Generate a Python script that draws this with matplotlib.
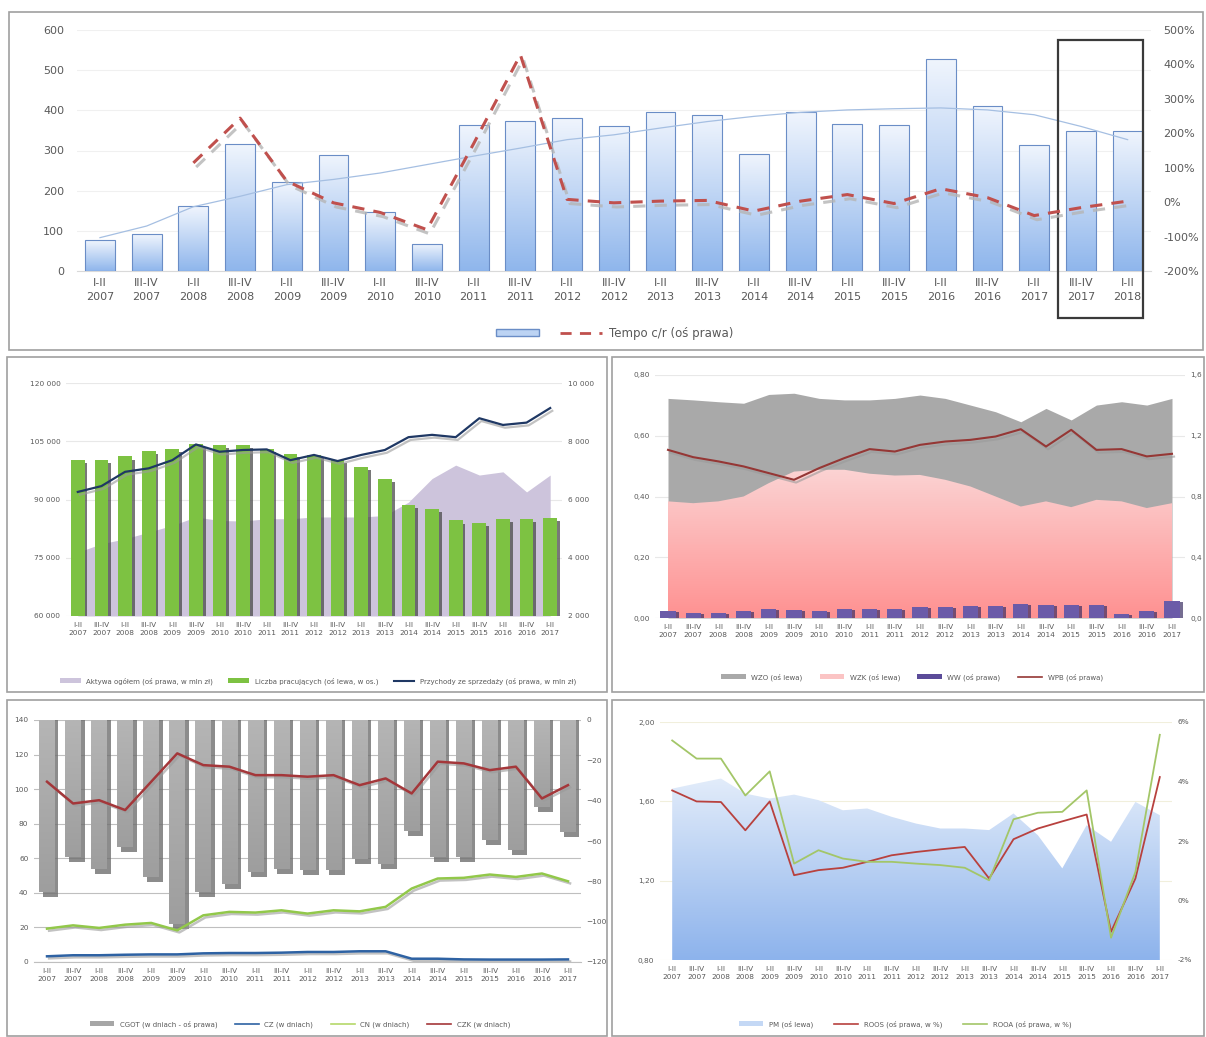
import matplotlib
matplotlib.use("Agg")
import matplotlib.pyplot as plt
import matplotlib.patheffects as pe
import numpy as np
from matplotlib.patches import Rectangle, Patch
from matplotlib.lines import Line2D
from matplotlib.colors import LinearSegmentedColormap
from matplotlib.transforms import blended_transform_factory

plt.rcParams['font.family'] = ['DejaVu Sans']

# ---------------- dane ----------------
okresy_top = ['I-II\n2007', 'III-IV\n2007', 'I-II\n2008', 'III-IV\n2008', 'I-II\n2009', 'III-IV\n2009',
              'I-II\n2010', 'III-IV\n2010', 'I-II\n2011', 'III-IV\n2011', 'I-II\n2012', 'III-IV\n2012',
              'I-II\n2013', 'III-IV\n2013', 'I-II\n2014', 'III-IV\n2014', 'I-II\n2015', 'III-IV\n2015',
              'I-II\n2016', 'III-IV\n2016', 'I-II\n2017', 'III-IV\n2017', 'I-II\n2018']
okresy = okresy_top[:21]

wartosc = [77, 91, 161, 315, 221, 290, 147, 68, 364, 374, 380, 360, 397, 389, 292, 395,
           366, 363, 528, 410, 314, 349, 349]
trend = [83, 112, 160, 186, 215, 228, 244, 265, 286, 306, 327, 339, 356, 372, 385, 395,
         401, 404, 406, 401, 389, 360, 327]
tempo = [114, 244, 61, -2, -30, -80, 170, 428, 8, -2, 3, 5, -26, 3, 22, -4, 39, 13,
         -39, -16, 3]  # od I-II 2008

liczba_prac = [100100, 100100, 101100, 102500, 103100, 104200, 104100, 104000, 103100, 101800,
               101400, 100100, 98400, 95400, 88700, 87600, 84600, 83900, 85000, 85000, 85300]
aktywa = [4190, 4480, 4650, 4880, 5110, 5400, 5280, 5260, 5340, 5340, 5400, 5400, 5400, 5450,
          5910, 6720, 7180, 6840, 6950, 6260, 6840]
przychody = [6260, 6460, 6950, 7070, 7350, 7890, 7640, 7700, 7720, 7350, 7530, 7320, 7530, 7700,
             8140, 8220, 8140, 8790, 8560, 8640, 9140]

wzo = [0.723, 0.718, 0.712, 0.707, 0.736, 0.740, 0.723, 0.718, 0.718, 0.723, 0.734, 0.723,
       0.701, 0.679, 0.646, 0.690, 0.652, 0.701, 0.712, 0.701, 0.723]
wzk = [0.384, 0.378, 0.384, 0.400, 0.444, 0.482, 0.488, 0.488, 0.475, 0.469, 0.471, 0.455,
       0.433, 0.400, 0.367, 0.384, 0.365, 0.389, 0.384, 0.362, 0.378]
ww = [0.044, 0.033, 0.033, 0.044, 0.059, 0.055, 0.048, 0.059, 0.059, 0.059, 0.072, 0.072,
      0.077, 0.077, 0.092, 0.083, 0.083, 0.083, 0.026, 0.044, 0.110]
wpb = [1.107, 1.059, 1.031, 0.998, 0.954, 0.910, 0.987, 1.053, 1.112, 1.096, 1.140, 1.162,
       1.173, 1.195, 1.243, 1.129, 1.239, 1.107, 1.112, 1.064, 1.081]

cgot = [-85.2, -67.9, -73.7, -62.9, -77.8, -101.0, -85.2, -81.1, -75.3, -73.7, -74.5, -74.5,
        -68.7, -71.2, -55.1, -67.9, -67.9, -59.6, -64.6, -43.0, -55.4]
cz = [3.3, 3.9, 3.9, 4.2, 4.4, 4.4, 5.0, 5.2, 5.2, 5.4, 5.8, 5.8, 6.2, 6.2, 1.9, 1.9, 1.5,
      1.4, 1.4, 1.4, 1.5]
cn = [19.3, 21.2, 19.7, 21.6, 22.6, 18.3, 27.0, 29.0, 28.6, 29.9, 28.0, 29.9, 29.3, 31.9,
      42.5, 48.3, 48.7, 50.6, 49.2, 51.2, 46.7]
czk = [104.3, 91.7, 93.6, 87.9, 104.3, 120.7, 113.9, 113.0, 108.1, 108.1, 107.2, 108.1, 102.3,
       106.2, 97.5, 115.9, 114.9, 111.0, 113.0, 94.6, 102.3]

pm = [1.664, 1.690, 1.715, 1.639, 1.614, 1.634, 1.606, 1.555, 1.564, 1.522, 1.488, 1.463,
      1.463, 1.455, 1.539, 1.429, 1.262, 1.480, 1.396, 1.597, 1.530]
roos = [3.70, 3.33, 3.31, 2.36, 3.33, 0.85, 1.02, 1.10, 1.30, 1.52, 1.63, 1.72, 1.80, 0.74,
        2.06, 2.42, 2.66, 2.89, -1.05, 0.74, 4.15]
rooa = [5.38, 4.77, 4.77, 3.53, 4.34, 1.24, 1.69, 1.41, 1.30, 1.30, 1.24, 1.19, 1.10, 0.68,
        2.73, 2.95, 2.98, 3.70, -1.25, 0.96, 5.57]

# ---------------- pomocnicze ----------------
W, H = 1206, 1037
TXT = '#595959'
FS = 5.3
fig = plt.figure(figsize=(W / 100, H / 100), dpi=100)


def add_ax(x0, y0, x1, y1, **kw):
    return fig.add_axes([x0 / W, 1 - y1 / H, (x1 - x0) / W, (y1 - y0) / H], **kw)


def clean(ax, fs, pad=4):
    for s in ax.spines.values():
        s.set_visible(False)
    ax.tick_params(length=0, labelsize=fs, colors=TXT, pad=pad)


def gradient(ax, clip, extent, c_top, c_bot, z, transform=None):
    cmap = LinearSegmentedColormap.from_list('g', [c_bot, c_top])
    xl, yl = ax.get_xlim(), ax.get_ylim()
    im = ax.imshow(np.linspace(0, 1, 128).reshape(-1, 1), cmap=cmap, extent=extent,
                   origin='lower', aspect='auto', zorder=z, interpolation='bilinear')
    if transform is None:
        im.set_clip_path(clip)
    else:
        im.set_clip_path(clip, transform)
    ax.set_xlim(xl)
    ax.set_ylim(yl)


def frame(x0, y0, x1, y1):
    fig.add_artist(Rectangle((x0 / W, 1 - y1 / H), (x1 - x0) / W, (y1 - y0) / H,
                             transform=fig.transFigure, fill=False, ec='#a0a0a0', lw=1.2))


def shadow(off=(1.5, -1.5)):
    return [pe.SimpleLineShadow(offset=off, shadow_color='#9a9a9a', alpha=0.6), pe.Normal()]


frame(9, 12, 1203, 350)
frame(7, 357, 607, 692)
frame(612, 357, 1204, 692)
frame(7, 700, 607, 1036)
frame(612, 700, 1204, 1036)

# ---------------- wykres górny ----------------
x = np.arange(len(okresy_top))
ax1 = add_ax(76.6, 30, 1151, 271)
clean(ax1, 8)
ax1.tick_params(axis='y', pad=9)
ax1.tick_params(axis='x', pad=5)
ax1.set_xlim(-0.5, len(okresy_top) - 0.5)
ax1.set_ylim(0, 600)
ax1.set_yticks(range(0, 601, 100))
ax1.yaxis.grid(True, color='#f0f0f0', lw=0.8)
ax1.set_axisbelow(True)
ax1.spines['bottom'].set_visible(True)
ax1.spines['bottom'].set_color('#d9d9d9')
ax1.set_xticks(x)
ax1.set_xticklabels(okresy_top, linespacing=1.45)
bars = ax1.bar(x, wartosc, width=0.64, facecolor='none', edgecolor='#6a8dc6', lw=0.8, zorder=3)
for b in bars:
    gradient(ax1, b, [b.get_x(), b.get_x() + b.get_width(), 0, b.get_height()],
             '#f0f5fd', '#8fb6ec', 2.9)
ax1.plot(x, trend, color='#a5bfe2', lw=0.9, zorder=4)

ax1b = ax1.twinx()
clean(ax1b, 8, pad=9)
ax1b.set_ylim(-200, 500)
ax1b.set_yticks(range(-200, 501, 100))
ax1b.set_yticklabels([f'{v}%' for v in range(-200, 501, 100)])
ax1b.plot(x[2:], tempo, color='#c0504d', lw=2.2, dashes=(4, 3),
          path_effects=[pe.SimpleLineShadow(offset=(2, -3), shadow_color='#b5b5b5', alpha=0.8),
                        pe.Normal()])
# ramka wokół dwóch ostatnich okresów
ax1b.add_patch(Rectangle((20.5, -0.195), 1.83, 1.153,
                         transform=blended_transform_factory(ax1b.transData, ax1b.transAxes),
                         fill=False, ec='#3a3a3a', lw=1.6, clip_on=False))
fig.legend(handles=[Patch(fc='#bcd3f3', ec='#6a8dc6'),
                    Line2D([], [], color='#c0504d', lw=2, dashes=(4, 3))],
           labels=['', 'Tempo c/r (oś prawa)'], loc='center',
           bbox_to_anchor=(615 / W, 1 - 333 / H), ncol=2, frameon=False, fontsize=8.5,
           handlelength=3.6, handleheight=0.6, columnspacing=1.2, handletextpad=0.6,
           labelcolor=TXT)

# ---------------- panel 2 ----------------
x2 = np.arange(len(okresy))
pos2 = (66, 383, 562, 616)
ax2a = add_ax(*pos2)
clean(ax2a, FS)
ax2a.set_xlim(-0.5, 20.5)
ax2a.set_ylim(2000, 10000)
ax2a.yaxis.tick_right()
ax2a.set_yticks(range(2000, 10001, 2000))
ax2a.set_yticklabels([f'{v:,}'.replace(',', ' ') for v in range(2000, 10001, 2000)])
ax2a.yaxis.grid(True, color='#e8e8e8', lw=0.8)
ax2a.set_axisbelow(True)
ax2a.fill_between(x2, 2000, aktywa, color='#cdc4dc', lw=0, zorder=1)
ax2a.set_xticks(x2)
ax2a.set_xticklabels(okresy, linespacing=1.5)

ax2b = add_ax(*pos2)
ax2b.patch.set_visible(False)
clean(ax2b, FS)
ax2b.set_xlim(-0.5, 20.5)
ax2b.set_ylim(60000, 120000)
ax2b.set_yticks(range(60000, 120001, 15000))
ax2b.set_yticklabels([f'{v:,}'.replace(',', ' ') for v in range(60000, 120001, 15000)])
ax2b.set_xticks([])
ax2b.bar(x2 + 0.12, np.array(liczba_prac) - 800, width=0.58, color='#4b4b4b', alpha=0.75, lw=0)
ax2b.bar(x2, liczba_prac, width=0.58, color='#7dc242', lw=0)

ax2c = add_ax(*pos2)
ax2c.patch.set_visible(False)
clean(ax2c, FS)
ax2c.set_xlim(-0.5, 20.5)
ax2c.set_ylim(2000, 10000)
ax2c.set_xticks([])
ax2c.set_yticks([])
ax2c.plot(x2, przychody, color='#1f3864', lw=1.6, path_effects=shadow((1.5, -2)))
fig.legend(handles=[Patch(fc='#cdc4dc'), Patch(fc='#7dc242'), Line2D([], [], color='#1f3864', lw=1.5)],
           labels=['Aktywa ogółem (oś prawa, w mln zł)', 'Liczba pracujących (oś lewa, w os.)',
                   'Przychody ze sprzedaży (oś prawa, w mln zł)'],
           loc='center', bbox_to_anchor=(318 / W, 1 - 681 / H), ncol=3, frameon=False,
           fontsize=5, handlelength=3, columnspacing=2.2, labelcolor=TXT)

# ---------------- panel 3 ----------------
ax3 = add_ax(655.4, 375, 1184.6, 618)
clean(ax3, FS)
ax3.set_xlim(-0.5, 20.5)
ax3.set_ylim(0, 0.8)
ax3.set_yticks(np.arange(0, 0.81, 0.2))
ax3.set_yticklabels([f'{v:.2f}'.replace('.', ',') for v in np.arange(0, 0.81, 0.2)])
ax3.yaxis.grid(True, color='#e8e8e8', lw=0.8)
ax3.set_axisbelow(True)
ax3.set_xticks(x2)
ax3.set_xticklabels(okresy, linespacing=1.5)
ax3.fill_between(x2, 0, wzo, color='#a9a9a9', lw=0, zorder=1)
poly = ax3.fill_between(x2, 0, wzk, facecolor='none', lw=0, zorder=2)
gradient(ax3, poly.get_paths()[0], [0, 20, 0, max(wzk)], '#fbd3d3', '#ff9191', 2,
         transform=ax3.transData)

ax3b = ax3.twinx()
clean(ax3b, FS)
ax3b.set_ylim(0, 1.6)
ax3b.set_yticks(np.arange(0, 1.61, 0.4))
ax3b.set_yticklabels([f'{v:.1f}'.replace('.', ',') for v in np.arange(0, 1.61, 0.4)])
ax3b.bar(x2 + 0.12, np.array(ww) - 0.006, width=0.6, color='#3b2f63', alpha=0.7, lw=0)
ax3b.bar(x2, ww, width=0.6, color='#6b5ba8', lw=0)
ax3b.plot(x2, wpb, color='#953735', lw=1.5, path_effects=shadow((1.5, -2)))
fig.legend(handles=[Patch(fc='#a9a9a9'), Patch(fc='#fbc4c4'), Patch(fc='#5b4b99'),
                    Line2D([], [], color='#953735', lw=1.2)],
           labels=['WZO (oś lewa)', 'WZK (oś lewa)', 'WW (oś prawa)', 'WPB (oś prawa)'],
           loc='center', bbox_to_anchor=(912 / W, 1 - 677 / H), ncol=4, frameon=False,
           fontsize=5, handlelength=3.5, columnspacing=2.5, labelcolor=TXT)

# ---------------- panel 4 ----------------
pos4 = (34, 720, 581, 962)
ax4g = add_ax(*pos4)
clean(ax4g, FS)
ax4g.set_xlim(-0.5, 20.5)
ax4g.set_ylim(0, 140)
ax4g.set_yticks(range(0, 141, 20))
ax4g.yaxis.grid(True, color='#bfbfbf', lw=0.8)
ax4g.set_xticks(x2)
ax4g.set_xticklabels(okresy, linespacing=1.5)
ax4g.spines['bottom'].set_visible(True)
ax4g.spines['bottom'].set_color('#bfbfbf')

ax4r = add_ax(*pos4)
ax4r.patch.set_visible(False)
clean(ax4r, FS)
ax4r.set_xlim(-0.5, 20.5)
ax4r.set_ylim(-120, 0)
ax4r.yaxis.tick_right()
ax4r.set_yticks(range(-120, 1, 20))
ax4r.set_xticks([])
ax4r.bar(x2 + 0.14, np.array(cgot) - 2.5, width=0.6, color='#6f6f6f', alpha=0.8, lw=0)
cb = ax4r.bar(x2, cgot, width=0.6, facecolor='none', lw=0)
for b in cb:
    gradient(ax4r, b, [b.get_x(), b.get_x() + b.get_width(), b.get_height(), 0],
             '#b5b5b5', '#9e9e9e', 2)

ax4l = add_ax(*pos4)
ax4l.patch.set_visible(False)
clean(ax4l, FS)
ax4l.set_xlim(-0.5, 20.5)
ax4l.set_ylim(0, 140)
ax4l.set_xticks([])
ax4l.set_yticks([])
ax4l.plot(x2, cz, color='#2e62a3', lw=1.8, path_effects=shadow())
ax4l.plot(x2, cn, color='#92c84a', lw=1.8, path_effects=shadow())
ax4l.plot(x2, czk, color='#a4373a', lw=1.8, path_effects=shadow())
fig.legend(handles=[Patch(fc='#a6a6a6'), Line2D([], [], color='#2e62a3', lw=1.2),
                    Line2D([], [], color='#b5d86a', lw=1.2), Line2D([], [], color='#a4373a', lw=1.2)],
           labels=['CGOT (w dniach - oś prawa)', 'CZ (w dniach)', 'CN (w dniach)', 'CZK (w dniach)'],
           loc='center', bbox_to_anchor=(300 / W, 1 - 1024 / H), ncol=4, frameon=False,
           fontsize=5, handlelength=3.5, columnspacing=2.5, labelcolor=TXT)

# ---------------- panel 5 ----------------
ax5 = add_ax(660, 722, 1172, 960)
clean(ax5, FS)
ax5.set_xlim(-0.5, 20.5)
ax5.set_ylim(0.8, 2.0)
ax5.set_yticks(np.arange(0.8, 2.01, 0.4))
ax5.set_yticklabels([f'{v:.2f}'.replace('.', ',') for v in np.arange(0.8, 2.01, 0.4)])
ax5.yaxis.grid(True, color='#f1efdc', lw=0.8)
ax5.set_axisbelow(True)
ax5.set_xticks(x2)
ax5.set_xticklabels(okresy, linespacing=1.5)
poly5 = ax5.fill_between(x2, 0.8, pm, facecolor='none', lw=0, zorder=2)
gradient(ax5, poly5.get_paths()[0], [0, 20, 0.8, max(pm)], '#e2ecfa', '#8db3ec', 2,
         transform=ax5.transData)

ax5b = ax5.twinx()
clean(ax5b, FS)
ax5b.set_ylim(-2, 6)
ax5b.set_yticks(range(-2, 7, 2))
ax5b.set_yticklabels([f'{v}%' for v in range(-2, 7, 2)])
ax5b.plot(x2, roos, color='#b8413e', lw=1.3)
ax5b.plot(x2, rooa, color='#a3c668', lw=1.3)
fig.legend(handles=[Patch(fc='#c4d8f5'), Line2D([], [], color='#b8413e', lw=1.2),
                    Line2D([], [], color='#a3c668', lw=1.2)],
           labels=['PM (oś lewa)', 'ROOS (oś prawa, w %)', 'ROOA (oś prawa, w %)'],
           loc='center', bbox_to_anchor=(905 / W, 1 - 1024 / H), ncol=3, frameon=False,
           fontsize=5, handlelength=3.5, columnspacing=3, labelcolor=TXT)

fig.savefig('out.png', dpi=100)
